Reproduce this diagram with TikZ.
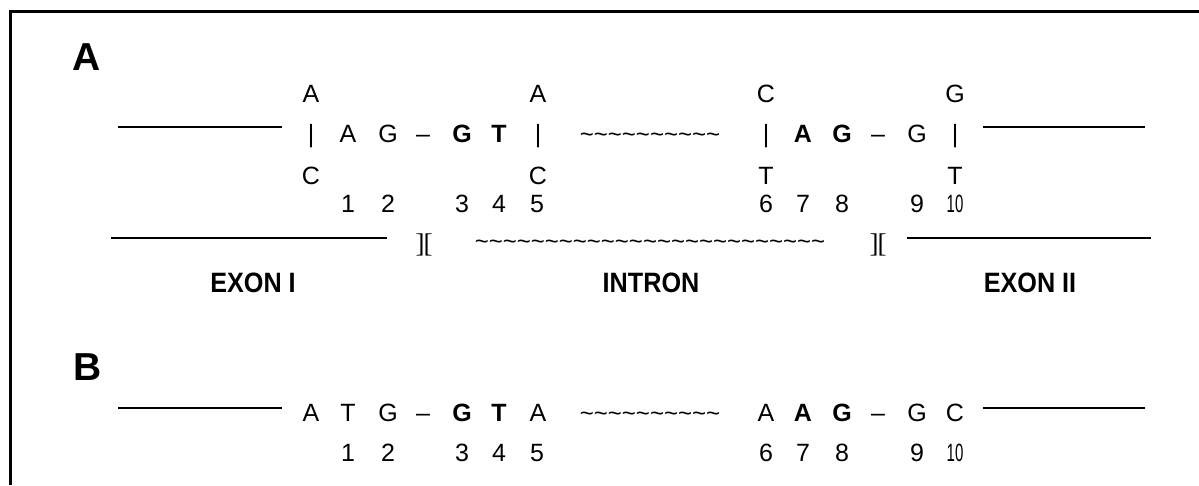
\documentclass[tikz,border=0pt]{standalone}
\usepackage{fontspec}
\setmainfont{Liberation Sans}
\newfontfamily\serifbr{Liberation Serif}
\usepackage{graphicx}
\newcommand\tilderun[1]{\foreach \k in {1,...,#1}{\textasciitilde}}
\begin{document}
\begin{tikzpicture}[x=1pt,y=-1pt,
  nt/.style={anchor=base,inner sep=0pt,outer sep=0pt,font=\fontsize{25}{25}\selectfont},
  nb/.style={nt,font=\fontsize{25}{25}\selectfont\bfseries},
  tl/.style={anchor=base,inner sep=0pt,outer sep=0pt,font=\fontsize{24}{24}\selectfont},
  panel/.style={anchor=base,inner sep=0pt,font=\fontsize{39}{39}\selectfont\bfseries},
  region/.style={anchor=base,inner sep=0pt,font=\fontsize{28}{28}\selectfont\bfseries},
  brk/.style={anchor=center,inner sep=0pt,font=\serifbr\fontsize{27}{27}\selectfont},
  seg/.style={line width=2pt},
  frame/.style={line width=3pt}]
\useasboundingbox (0,0) rectangle (1199,485);
\draw[frame] (10,485) -- (10,11) -- (1199,11);

% ---------- panel A ----------
\node[panel] (labA) at (87,70) {A};
% row 1
\node[nt] (t1) at (311,102) {A};
\node[nt] (t2) at (538,102) {A};
\node[nt] (t3) at (766,102) {C};
\node[nt] (t4) at (955,102) {G};
% row 2
\coordinate (l1a) at (118,127); \coordinate (l1b) at (282,127);
\draw[seg] (l1a) -- (l1b);
\node[nt] (b1) at (311,142) {|};
\node[nt] (m1) at (348,142) {A};
\node[nt] (m2) at (388,142) {G};
\node[nt] (d1) at (423,142) {--};
\node[nb] (m3) at (462,142) {G};
\node[nb] (m4) at (499,142) {T};
\node[nt] (b2) at (538,142) {|};
\node[tl] (w1) at (650,142) {\tilderun{10}};
\node[nt] (b3) at (766,142) {|};
\node[nb] (m7) at (803,142) {A};
\node[nb] (m8) at (842,142) {G};
\node[nt] (d2) at (878,142) {--};
\node[nt] (m9) at (917,142) {G};
\node[nt] (b4) at (955,142) {|};
\coordinate (r1a) at (983,127); \coordinate (r1b) at (1145,127);
\draw[seg] (r1a) -- (r1b);
% row 3
\node[nt] (u1) at (311,184) {C};
\node[nt] (u2) at (538,184) {C};
\node[nt] (u3) at (766,184) {T};
\node[nt] (u4) at (955,184) {T};
% numbers
\node[nt] (n1) at (348,212) {1};
\node[nt] (n2) at (388,212) {2};
\node[nt] (n3) at (462,212) {3};
\node[nt] (n4) at (499,212) {4};
\node[nt] (n5) at (537,212) {5};
\node[nt] (n6) at (766,212) {6};
\node[nt] (n7) at (803,212) {7};
\node[nt] (n8) at (842,212) {8};
\node[nt] (n9) at (917,212) {9};
\node[nt] (n10) at (955,212) {\scalebox{0.6}[1]{10}};
% gene structure
\coordinate (g1a) at (111,238); \coordinate (g1b) at (387,238);
\draw[seg] (g1a) -- (g1b);
\node[brk] (j1) at (424,245) {]\kern-1pt[};
\node[tl] (w2) at (650,249) {\tilderun{25}};
\node[brk] (j2) at (878,245) {]\kern-1pt[};
\coordinate (g2a) at (907,238); \coordinate (g2b) at (1151,238);
\draw[seg] (g2a) -- (g2b);
\node[region] (ex1) at (253,292) {\scalebox{0.9}[1]{EXON I}};
\node[region] (intr) at (651,292) {\scalebox{0.9}[1]{INTRON}};
\node[region] (ex2) at (1030,292) {\scalebox{0.9}[1]{EXON II}};

% ---------- panel B ----------
\node[panel] (labB) at (88,380) {B};
\coordinate (l2a) at (118,408); \coordinate (l2b) at (282,408);
\draw[seg] (l2a) -- (l2b);
\node[nt] (s1) at (311,421) {A};
\node[nt] (s2) at (348,421) {T};
\node[nt] (s3) at (388,421) {G};
\node[nt] (e1) at (423,421) {--};
\node[nb] (s4) at (462,421) {G};
\node[nb] (s5) at (499,421) {T};
\node[nt] (s6) at (538,421) {A};
\node[tl] (w3) at (650,421) {\tilderun{10}};
\node[nt] (s7) at (766,421) {A};
\node[nb] (s8) at (803,421) {A};
\node[nb] (s9) at (842,421) {G};
\node[nt] (e2) at (878,421) {--};
\node[nt] (s10) at (917,421) {G};
\node[nt] (s11) at (955,421) {C};
\coordinate (r2a) at (983,408); \coordinate (r2b) at (1145,408);
\draw[seg] (r2a) -- (r2b);
\node[nt] (q1) at (348,461) {1};
\node[nt] (q2) at (388,461) {2};
\node[nt] (q3) at (462,461) {3};
\node[nt] (q4) at (499,461) {4};
\node[nt] (q5) at (537,461) {5};
\node[nt] (q6) at (766,461) {6};
\node[nt] (q7) at (803,461) {7};
\node[nt] (q8) at (842,461) {8};
\node[nt] (q9) at (917,461) {9};
\node[nt] (q10) at (955,461) {\scalebox{0.6}[1]{10}};
\end{tikzpicture}
\end{document}
